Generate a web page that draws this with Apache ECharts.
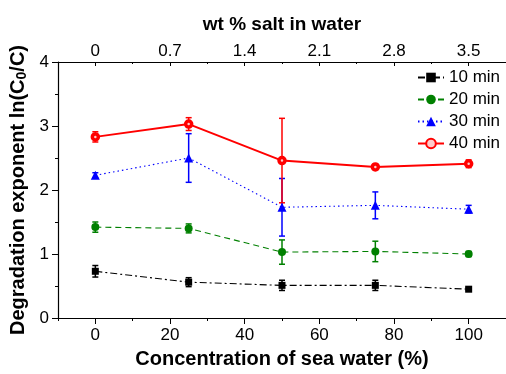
<!DOCTYPE html>
<html>
<head>
<meta charset="utf-8">
<script src="https://cdn.jsdelivr.net/npm/echarts@6/dist/echarts.min.js"></script>
<style>
  html, body { margin: 0; padding: 0; background: #fff; }
  #chart { width: 506px; height: 374px; }
</style>
</head>
<body>
<div id="chart"></div>
<script>
// concentration of sea water (%)
var conc = [0, 25, 50, 75, 100]
// degradation exponent ln(C0/C) and error
var min10 = [0.73, 0.56, 0.51, 0.51, 0.45]
var err10 = [0.09, 0.07, 0.08, 0.08, 0.02]
var min20 = [1.42, 1.40, 1.03, 1.04, 1.00]
var err20 = [0.08, 0.07, 0.19, 0.16, 0.04]
var min30 = [2.23, 2.50, 1.73, 1.76, 1.70]
var err30 = [0.04, 0.38, 0.45, 0.21, 0.06]
var min40 = [2.83, 3.03, 2.46, 2.36, 2.41]
var err40 = [0.08, 0.10, 0.66, 0.04, 0.06]
// tick labels
var bottomTicks = [0, 20, 40, 60, 80, 100]
var topLabels = ['0', '0.7', '1.4', '2.1', '2.8', '3.5']
var names = ['10 min', '20 min', '30 min', '40 min']

var FONT = 'Liberation Sans'

function pairs(vals) {
  var out = []
  for (var i = 0; i < conc.length; i++) out.push([conc[i], vals[i]])
  return out
}
function errPairs(vals, errs) {
  var out = []
  for (var i = 0; i < conc.length; i++) out.push([conc[i], vals[i] - errs[i], vals[i] + errs[i]])
  return out
}
function errSeries(vals, errs, color) {
  return {
    type: 'custom',
    z: 1,
    silent: true,
    encode: { x: 0, y: [1, 2] },
    data: errPairs(vals, errs),
    renderItem: function(params, api) {
      var x = api.value(0)
      var top = api.coord([x, api.value(2)])
      var bot = api.coord([x, api.value(1)])
      var w = 3
      var st = { stroke: color, lineWidth: 1.5 }
      return {
        type: 'group',
        children: [
          { type: 'line', shape: { x1: top[0], y1: top[1], x2: bot[0], y2: bot[1] }, style: st },
          { type: 'line', shape: { x1: top[0] - w, y1: top[1], x2: top[0] + w, y2: top[1] }, style: st },
          { type: 'line', shape: { x1: bot[0] - w, y1: bot[1], x2: bot[0] + w, y2: bot[1] }, style: st }
        ]
      }
    }
  }
}

var axisLine = { show: true, onZero: false, lineStyle: { color: '#000', width: 1.2 } }
var labelStyle = { color: '#000', fontSize: 17, fontFamily: FONT }
var nameStyle = { color: '#000', fontSize: 20, fontWeight: 'bold', fontFamily: FONT }

var myChart = echarts.init(document.getElementById('chart'))
var option = {
  animation: false,
  backgroundColor: '#fff',
  grid: { left: 58, top: 62, bottom: 54, right: -7 },
  legend: {
    orient: 'vertical',
    left: 412,
    top: 64,
    itemWidth: 26,
    itemHeight: 12,
    itemGap: 5,
    textStyle: { color: '#000', fontSize: 17, fontFamily: FONT },
    data: names
  },
  xAxis: [
    {
      type: 'value', position: 'bottom', min: -10, max: 110, interval: 10,
      axisLine: axisLine,
      splitLine: { show: false },
      axisTick: { length: 3, lineStyle: { color: '#000' } },
      axisLabel: Object.assign({ customValues: bottomTicks, margin: 9 }, labelStyle),
      name: 'Concentration of sea water (%)',
      nameLocation: 'middle',
      nameGap: 31,
      nameTextStyle: nameStyle
    },
    {
      type: 'value', position: 'bottom', min: -10, max: 110,
      axisLine: { show: false, onZero: false },
      splitLine: { show: false },
      axisTick: { customValues: bottomTicks, length: 6, lineStyle: { color: '#000' } },
      axisLabel: { show: false }
    },
    {
      type: 'value', position: 'top', min: -10, max: 110, interval: 10,
      axisLine: axisLine,
      splitLine: { show: false },
      axisTick: { inside: true, length: 2, lineStyle: { color: '#000' } },
      axisLabel: Object.assign({
        customValues: bottomTicks,
        margin: 2,
        formatter: function(v) { return topLabels[bottomTicks.indexOf(v)] }
      }, labelStyle),
      name: 'wt % salt in water',
      nameLocation: 'middle',
      nameGap: 28,
      nameTextStyle: Object.assign({}, nameStyle, { fontSize: 19 })
    },
    {
      type: 'value', position: 'top', min: -10, max: 110,
      axisLine: { show: false, onZero: false },
      splitLine: { show: false },
      axisTick: { inside: true, customValues: bottomTicks, length: 4, lineStyle: { color: '#000' } },
      axisLabel: { show: false }
    }
  ],
  yAxis: {
    type: 'value', min: 0, max: 4, interval: 1,
    axisLine: axisLine,
    splitLine: { show: false },
    axisTick: { length: 6, lineStyle: { color: '#000' } },
    minorTick: { show: true, splitNumber: 2, length: 3, lineStyle: { color: '#000' } },
    axisLabel: Object.assign({ margin: 9 }, labelStyle),
    name: 'Degradation exponent ln(C{sub|0}/C)',
    nameLocation: 'middle',
    nameGap: 26,
    nameTextStyle: Object.assign({
      rich: { sub: { fontSize: 14, fontWeight: 'bold', fontFamily: FONT, color: '#000', verticalAlign: 'bottom', padding: [7, 0, 0, 0] } }
    }, nameStyle)
  },
  series: [
    errSeries(min10, err10, '#000000'),
    errSeries(min20, err20, '#008000'),
    errSeries(min30, err30, '#0000ff'),
    errSeries(min40, err40, '#ff0000'),
    {
      name: '10 min', type: 'line', z: 3, data: pairs(min10),
      symbol: 'rect', symbolSize: 7,
      itemStyle: { color: '#000000' },
      lineStyle: { color: '#000000', width: 1.1, type: [7, 3, 2, 3] }
    },
    {
      name: '20 min', type: 'line', z: 3, data: pairs(min20),
      symbol: 'circle', symbolSize: 8,
      itemStyle: { color: '#008000' },
      lineStyle: { color: '#008000', width: 1.1, type: [6, 4] }
    },
    {
      name: '30 min', type: 'line', z: 3, data: pairs(min30),
      symbol: 'triangle', symbolSize: 9,
      itemStyle: { color: '#0000ff' },
      lineStyle: { color: '#0000ff', width: 1.1, type: [1.5, 3] }
    },
    {
      name: '40 min', type: 'line', z: 4, data: pairs(min40),
      symbol: 'circle', symbolSize: 6,
      itemStyle: { color: '#ffcccc', borderColor: '#ff0000', borderWidth: 3.5 },
      lineStyle: { color: '#ff0000', width: 2 }
    }
  ]
}
myChart.setOption(option)
window.addEventListener('resize', function() {
  myChart.resize()
})
</script>
</body>
</html>
